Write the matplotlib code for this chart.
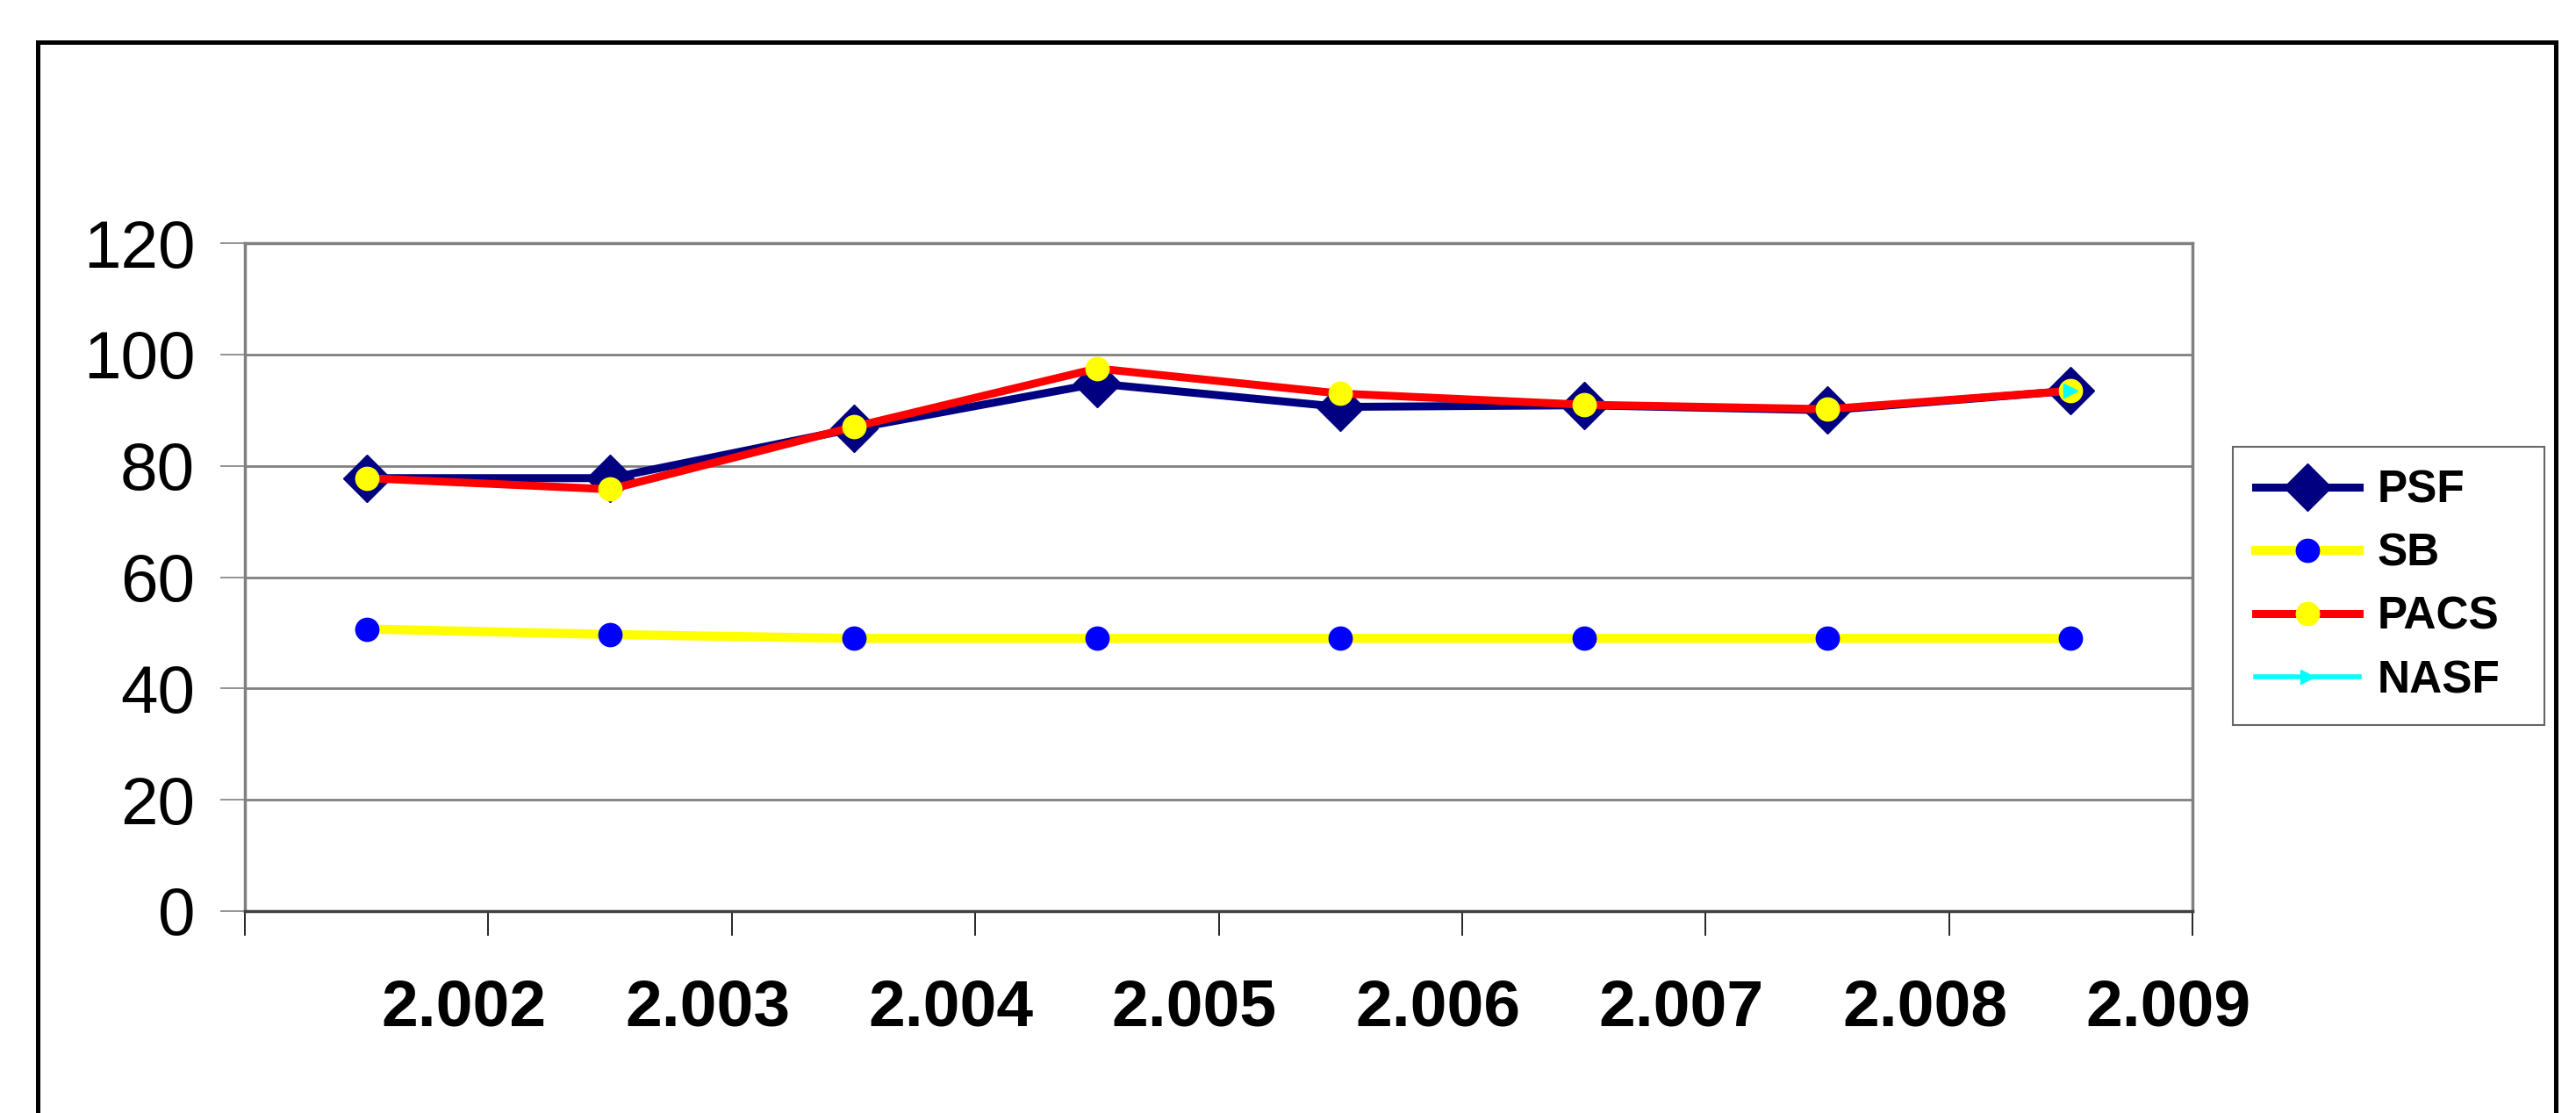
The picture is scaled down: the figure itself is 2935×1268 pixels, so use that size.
import matplotlib
matplotlib.use("Agg")
import matplotlib.pyplot as plt
import numpy as np
from matplotlib.patches import Rectangle

plt.rcParams['font.family'] = ['Liberation Sans', 'DejaVu Sans']

# data
years = ["2.002", "2.003", "2.004", "2.005", "2.006", "2.007", "2.008", "2.009"]
psf = [77.8, 77.8, 86.7, 94.8, 90.6, 90.9, 90.0, 93.5]
sb = [50.7, 49.7, 49.0, 49.0, 49.0, 49.0, 49.0, 49.0]
pacs = [77.8, 75.8, 87.0, 97.5, 93.0, 91.0, 90.2, 93.5]
nasf = [np.nan, np.nan, np.nan, np.nan, np.nan, np.nan, np.nan, 93.5]

x = np.arange(len(years))

fig = plt.figure(figsize=(29.35, 12.68), dpi=100)
ax = fig.add_axes([0.0951, 0.1814, 0.756, 0.600])

ax.plot(x, psf, color="#000080", lw=6.5, marker="D", ms=27, label="PSF", zorder=3)
ax.plot(x, sb, color="#ffff00", lw=7.5, marker="o", ms=19, mfc="#0000ff", mec="#0000ff", label="SB", zorder=4)
ax.plot(x, pacs, color="#ff0000", lw=6.5, marker="o", ms=19, mfc="#ffff00", mec="#ffff00", label="PACS", zorder=5)
ax.plot(x, nasf, color="#00ffff", lw=4, marker=">", ms=11, label="NASF", zorder=6)

ax.set_xlim(-0.5, len(years) - 0.5)
ax.set_ylim(0, 120)
ax.set_yticks(np.arange(0, 121, 20))
ax.yaxis.grid(True, color="#808080", lw=2)
ax.set_axisbelow(True)
ax.tick_params(axis="y", labelsize=55, length=20, width=1.2, color="#808080", pad=21)

# category boundaries as major ticks, labels as minor ticks
ax.set_xticks(np.arange(-0.5, len(years)), [""] * (len(years) + 1))
ax.set_xticks(x + 0.4, years, minor=True)
ax.tick_params(axis="x", which="major", length=20, width=1.2, color="black")
ax.tick_params(axis="x", which="minor", length=0, labelsize=54, pad=55)
for lab in ax.get_xticklabels(minor=True):
    lab.set_fontweight("bold")

for s in ["top", "right", "left"]:
    ax.spines[s].set_color("#808080")
    ax.spines[s].set_linewidth(2.5)
ax.spines["bottom"].set_color("#404040")
ax.spines["bottom"].set_linewidth(2.5)

leg = ax.legend(loc="upper left", bbox_to_anchor=(0.8668, 0.3636, 0.1209, 0.235),
                bbox_transform=fig.transFigure, mode="expand", borderaxespad=0,
                prop={"size": 37, "weight": "bold"}, handlelength=2.3, handletextpad=0.4,
                labelspacing=0.45, borderpad=0.5, fancybox=False, frameon=True)
leg.get_frame().set_edgecolor("#404040")
leg.get_frame().set_linewidth(1.5)

# outer border of the chart
fig.patches.append(Rectangle((0.0145, -0.05), 0.9778, 1.012, transform=fig.transFigure,
                             fill=False, edgecolor="black", lw=3.6, clip_on=False))

fig.savefig("out.png", dpi=100)
